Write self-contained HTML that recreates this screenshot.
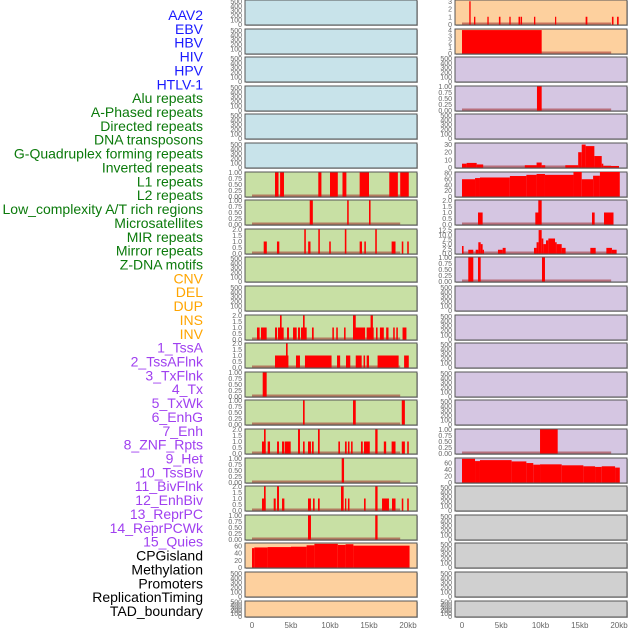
<!DOCTYPE html>
<html><head><meta charset="utf-8"><style>
html,body{margin:0;padding:0;background:#fff;}
svg{display:block;font-family:"Liberation Sans",sans-serif;}
</style></head><body>
<svg id="chart" width="630" height="630" viewBox="0 0 630 630"></svg>
<script>
// ---- data (segments: [startKb, endKb, value]) ----
const labels = ["AAV2","EBV","HBV","HIV","HPV","HTLV-1","Alu repeats","A-Phased repeats","Directed repeats","DNA transposons","G-Quadruplex forming repeats","Inverted repeats","L1 repeats","L2 repeats","Low_complexity A/T rich regions","Microsatellites","MIR repeats","Mirror repeats","Z-DNA motifs","CNV","DEL","DUP","INS","INV","1_TssA","2_TssAFlnk","3_TxFlnk","4_Tx","5_TxWk","6_EnhG","7_Enh","8_ZNF_Rpts","9_Het","10_TssBiv","11_BivFlnk","12_EnhBiv","13_ReprPC","14_ReprPCWk","15_Quies","CPGisland","Methylation","Promoters","ReplicationTiming","TAD_boundary"];
const labelGroups = [6,13,5,15,5];
const leftL1 = [[2.95,3.4,1],[3.6,4.1,1],[8.5,8.9,1],[10.0,11.0,1],[11.6,12.1,1],[13.8,15.0,1],[17.6,18.7,1],[19.0,20.1,1]];
const leftL2 = [[7.4,7.8,1],[12.2,12.4,1],[15.0,15.2,1]];
const leftMIR = [[1.5,1.9,1],[3.2,3.5,1],[6.7,6.9,2],[7.2,7.5,1],[8.5,8.7,2],[9.9,10.1,1],[11.9,12.1,2],[13.8,14.1,1],[14.4,14.6,1],[15.8,16.0,2],[17.9,18.4,1],[19.2,19.4,1],[19.9,20.1,1]];
const leftINS = [[0.64,0.98,1],[1.15,1.88,1],[2.95,3.21,1],[3.33,4.06,1],[3.59,3.8,2],[4.49,4.74,1],[5.26,5.73,1],[5.9,6.15,1],[6.28,7.01,1],[6.54,6.75,2],[7.69,7.91,1],[10.3,10.5,1],[10.8,11.0,1],[11.8,12.0,1],[12.95,14.5,1],[12.95,13.3,2],[14.7,15.6,1],[15.2,15.5,2],[15.9,16.1,1],[16.4,16.9,1],[17.2,17.5,1],[18.1,18.3,1],[18.5,18.7,1],[19.3,19.8,1]];
const leftINV = [[2.95,4.67,1],[4.36,4.57,2],[5.64,6.15,1],[6.79,10.2,1],[10.9,11.3,1],[12.05,12.6,1],[13.3,14.06,1],[14.3,14.5,1],[14.7,15.0,1],[16.1,18.8,1],[19.5,20.1,1]];
const leftTssA = [[1.37,1.88,1]];
const leftTssAFlnk = [[6.54,6.75,1],[12.95,13.3,1],[19.2,19.6,1]];
const leftTxFlnk = [[1.28,1.75,1],[1.54,1.75,2],[2.01,2.31,1],[3.21,3.46,1],[3.85,4.15,1],[4.23,4.96,1],[5.9,6.15,2],[6.54,6.75,1],[7.18,7.56,1],[7.69,7.91,1],[8.46,8.68,2],[11.07,11.28,1],[11.92,12.14,1],[12.3,12.5,1],[12.7,12.9,1],[13.97,14.2,1],[14.36,15.1,1],[15.8,16.1,2],[16.9,17.2,1],[17.9,18.4,1],[19.2,19.6,1],[19.9,20.1,1]];
const leftTx = [[11.5,11.8,1]];
const leftTxWk = [[1.28,1.75,1],[1.54,1.75,2],[2.78,3.04,1],[3.21,3.46,2],[3.85,4.15,1],[7.18,7.56,1],[7.82,8.03,1],[8.46,8.68,1],[11.41,11.75,2],[11.92,12.09,1],[12.3,12.5,1],[14.36,14.57,1],[15.8,16.1,2],[16.67,17.56,1],[17.95,18.4,1],[19.2,19.4,1],[19.9,20.1,1]];
const leftEnhG = [[7.18,7.56,1],[15.8,16.1,1]];
const leftCpG = [[0,0.3,54],[0.3,2,56],[2,5,57],[5,7,58],[7,8,62],[8,11,66],[11,12,63],[12,13,65],[13,20.2,61]];
const rightAAV = [[0.93,1.1,3],[1.53,1.7,1],[3.23,3.4,1],[4.7,4.9,1],[6.03,6.2,1],[7.2,7.4,1],[7.47,7.65,1],[9.17,9.34,1],[11.85,12.0,1],[15.75,15.97,1],[19.1,19.3,1],[19.75,19.96,1]];
const rightEBV = [[0,10.15,4]];
const rightHIV = [[9.55,10.15,1]];
const rightDNA = [[0,0.59,5],[0.59,1.87,6],[1.87,2.7,4],[8.0,9.5,3],[9.5,10.15,6.5],[10.15,10.6,3],[13.16,14.8,3],[14.8,15.25,20],[15.25,15.75,30],[15.75,16.86,28],[16.86,17.8,15],[17.8,18.0,5],[18.0,20.0,2]];
const rightInv = [[0,1.66,59],[1.66,2.29,63],[2.29,6.1,65],[6.1,8.2,70],[8.2,9.5,74],[9.5,10.57,77],[10.57,14.2,74],[14.2,15.25,84],[15.25,16.7,59],[16.7,17.57,71],[17.57,20.1,84]];
const rightL2 = [[2.04,2.63,1],[9.34,9.76,1],[9.72,10.15,2],[16.56,16.9,1],[18.09,19.3,1]];
const rightLow = [[0,0.2,4],[0.8,1.44,2],[1.74,2.08,2],[2.08,2.38,6],[2.38,2.63,5],[2.63,2.8,2],[4.58,5.18,2],[5.18,5.56,3],[9.17,9.5,3],[9.5,9.76,6],[9.76,10.15,12.5],[10.15,10.36,8],[10.36,10.7,5],[10.7,11.0,7],[11.0,11.85,8],[11.85,12.06,6],[12.06,12.7,5],[12.7,13.2,3],[16.35,17.03,3],[18.39,19.1,3],[19.1,19.7,2]];
const rightMicro = [[0.8,1.44,1],[2.04,2.38,1],[10.19,10.57,1]];
const rightZNF = [[9.94,12.19,1]];
const rightHet = [[0,1.66,73],[1.66,2.29,66],[2.29,6.32,69],[6.32,8.2,65],[8.2,9.08,60],[9.08,9.94,55],[9.94,12.7,56],[12.7,15.46,53],[15.46,16.95,50],[16.95,17.8,48],[17.8,19.5,50],[19.5,20.1,46]];
const xTickKb = [0,5,10,15,20];
const xTickLabels = ["0","5kb","10kb","15kb","20kb"];
const ticks500 = [0,100,200,300,400,500];
const ticks1 = [0,0.25,0.5,0.75,1];
const ticks2 = [0,0.5,1,1.5,2];

// ---- layout ----
const svg = document.getElementById('chart');
const NS = 'http://www.w3.org/2000/svg';
function mk(tag, attrs, parent){const e=document.createElementNS(NS,tag);for(const k in attrs)e.setAttribute(k,attrs[k]);(parent||svg).appendChild(e);return e;}
const BG = {b:'#c8e3ea',g:'#c8e0a4',o:'#fdd09e',p:'#d5c6e2',x:'#d0d0d0'};
const cols = [{x0:245,x1:417,k0:252,k1:408},{x0:455,x1:627,k0:462,k1:619}];
function cfg(bg,data,ymax,ticks,dec,base){return {bg,data,ymax,ticks,dec,base};}
const E = (bg)=>cfg(bg,null,520,ticks500,0,false);
const left = [E('b'),E('b'),E('b'),E('b'),E('b'),E('b'),
 cfg('g',leftL1,1,ticks1,2,true),cfg('g',leftL2,1,ticks1,2,true),cfg('g',leftMIR,2,ticks2,1,true),E('g'),E('g'),
 cfg('g',leftINS,2,ticks2,1,true),cfg('g',leftINV,2,ticks2,1,true),cfg('g',leftTssA,1,ticks1,2,true),cfg('g',leftTssAFlnk,1,ticks1,2,true),
 cfg('g',leftTxFlnk,2,ticks2,1,true),cfg('g',leftTx,1,ticks1,2,true),cfg('g',leftTxWk,2,ticks2,1,true),cfg('g',leftEnhG,1,ticks1,2,true),
 cfg('o',leftCpG,67,[0,20,40,60],0,false),E('o'),E('o')];
const right = [cfg('o',rightAAV,3.1,[0,1,2,3],0,true),cfg('o',rightEBV,4.1,[0,1,2,3,4],0,true),E('p'),
 cfg('p',rightHIV,1,ticks1,2,true),E('p'),cfg('p',rightDNA,31.4,[0,10,20,30],0,true),cfg('p',rightInv,82,[0,20,40,60,80],0,false),
 cfg('p',rightL2,2,ticks2,1,true),cfg('p',rightLow,12.8,[0,2.5,5,7.5,10,12.5],1,true),cfg('p',rightMicro,1,ticks1,2,true),
 E('p'),E('p'),E('p'),E('p'),E('p'),cfg('p',rightZNF,1,ticks1,2,true),cfg('p',rightHet,74,[0,20,40,60],0,false),
 E('x'),E('x'),E('x'),E('x'),E('x')];

function drawPanel(c, p, i, side){
  const top = Math.round(i*28.6), h = (i===21)?16:25;
  const g = mk('g',{});
  
  
  mk('rect',{x:c.x0+1,y:top+1,width:c.x1-c.x0,height:h,fill:'#bbb'},g);
  mk('rect',{x:c.x0,y:top,width:c.x1-c.x0,height:h,fill:BG[p.bg],stroke:'#555','stroke-width':1},g);
  const yb = top+h-0.5, yt = top+0.5;
  const yS = v => yb - v/p.ymax*(yb-yt);
  const xS = k => c.k0 + k/20*(c.k1-c.k0);
  if (p.base) {
    const bl = mk('rect',{x:xS(0),y:yb-2,width:xS(19)-xS(0),height:2,fill:'rgba(160,40,40,0.55)'},g);
    
    
  }
  if (p.data) {
    p.data.forEach(d=>{
      const x1 = xS(d[0]), x2 = xS(Math.min(d[1],20.2));
      const r = mk('rect',{x:x1,y:yS(d[2]),width:Math.max(1.2,x2-x1),height:yb-yS(d[2]),fill:'#ff0000'},g);
      
      
    });
  }
  p.ticks.forEach(t=>{
    const lbl = p.ymax===520 ? String(t) : t.toFixed(p.dec);
    const tx = mk('text',{x:c.x0-3,y:yS(t)+2.5,'font-size':7,fill:'#666','text-anchor':'end'},g);
    tx.textContent = lbl;
    
    
  });
}
left.forEach((p,i)=>drawPanel(cols[0],p,i,'left'));
right.forEach((p,i)=>drawPanel(cols[1],p,i,'right'));

cols.forEach((c,ci)=>{
  xTickKb.forEach((k,j)=>{
    const t = mk('text',{x:c.k0+k/20*(c.k1-c.k0),y:628,'font-size':8,fill:'#666','text-anchor':'middle'});
    t.textContent = xTickLabels[j];
    
    
  });
});

const groupColors = ['#1a1aff','#0b7a0b','#ffa500','#a040f0','#000000'];
let li = 0;
labelGroups.forEach((n,gi)=>{
  for (let j=0;j<n;j++,li++){
    const t = mk('text',{x:203,y:20+li*13.86,'font-size':14,fill:groupColors[gi],'text-anchor':'end'});
    t.textContent = labels[li];
    
    
  }
});
</script>
</body></html>
